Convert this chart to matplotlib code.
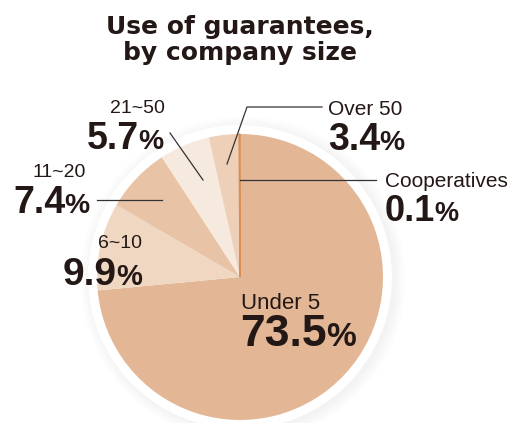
import matplotlib.pyplot as plt
from matplotlib.patches import Circle

# データ
labels = ["Under 5", "6~10", "11~20", "21~50", "Over 50", "Cooperatives"]
shares = [73.5, 9.9, 7.4, 5.7, 3.4, 0.1]
pct_text = ["73.5", "9.9", "7.4", "5.7", "3.4", "0.1"]
colors = ["#E3B795", "#F0D7C2", "#E8C3A6", "#F6E9DD", "#EED0B9", "#D98E52"]

H = 423


def Y(y):
    return H - y


fig = plt.figure(figsize=(5.2, 4.23), dpi=100)
ax = fig.add_axes([0, 0, 1, 1])

cx, cy, r = 240, Y(277), 143

# 影と白い縁
for k in range(12):
    ax.add_patch(Circle((cx + 3, cy - 2), r + 9 + k, color="#909090", alpha=0.008, lw=0, zorder=0))
ax.add_patch(Circle((cx, cy), r + 9, color="white", lw=0, zorder=1))

wedges, _ = ax.pie(shares, colors=colors, startangle=90, counterclock=False,
                   center=(cx, cy), radius=r, wedgeprops=dict(linewidth=0))
for w in wedges:
    w.set_zorder(2)
wedges[-1].set_edgecolor(colors[-1])
wedges[-1].set_linewidth(1.0)

ax.set_xlim(0, 520)
ax.set_ylim(0, H)
ax.axis("off")

tfont = dict(ha="center", va="baseline", fontsize=18, fontweight="heavy",
             family="DejaVu Sans", color="#231815")
ax.text(240, Y(34), "Use of guarantees,", **tfont)
ax.text(240, Y(60), "by company size", **tfont)

num_font = ["Liberation Sans", "DejaVu Sans"]
lab_font = ["Liberation Sans", "DejaVu Sans"]

# (ラベル x, ラベル baseline, サイズ, 数字 x, 数字 baseline, サイズ)
pos = {
    "Under 5": (241, 309, 16, 240, 346, 32),
    "6~10": (98, 248, 14, 63, 285, 28),
    "11~20": (33, 177, 14, 13, 213, 27),
    "21~50": (110, 113, 14, 87, 149, 27),
    "Over 50": (328, 115, 15, 328, 150, 27),
    "Cooperatives": (385, 187, 15, 385, 221, 26),
}

for lab, p in zip(labels, pct_text):
    lx, ly, ls, nx, ny, ns = pos[lab]
    ax.text(lx, Y(ly), lab, fontsize=ls, family=lab_font, color="#231815",
            ha="left", va="baseline", zorder=5)
    t = ax.text(nx, Y(ny), p, fontsize=ns, family=num_font, fontweight="bold",
                color="#231815", ha="left", va="baseline", zorder=5)
    ax.annotate("%", xy=(1, 0), xycoords=t, xytext=(-0.5, 1.5), textcoords="offset points",
                fontsize=ns * 0.75, family=num_font, fontweight="bold",
                color="#231815", ha="left", va="bottom", zorder=5)

# 引き出し線
lc = dict(color="#333333", lw=0.9, zorder=4)
ax.plot([170, 203], [Y(133), Y(180)], **lc)
ax.plot([97, 162], [Y(200), Y(200)], **lc)
ax.plot([227, 247, 322], [Y(164), Y(107), Y(107)], **lc)
ax.plot([240, 376], [Y(180), Y(180)], **lc)

plt.savefig("out.png", dpi=100)
